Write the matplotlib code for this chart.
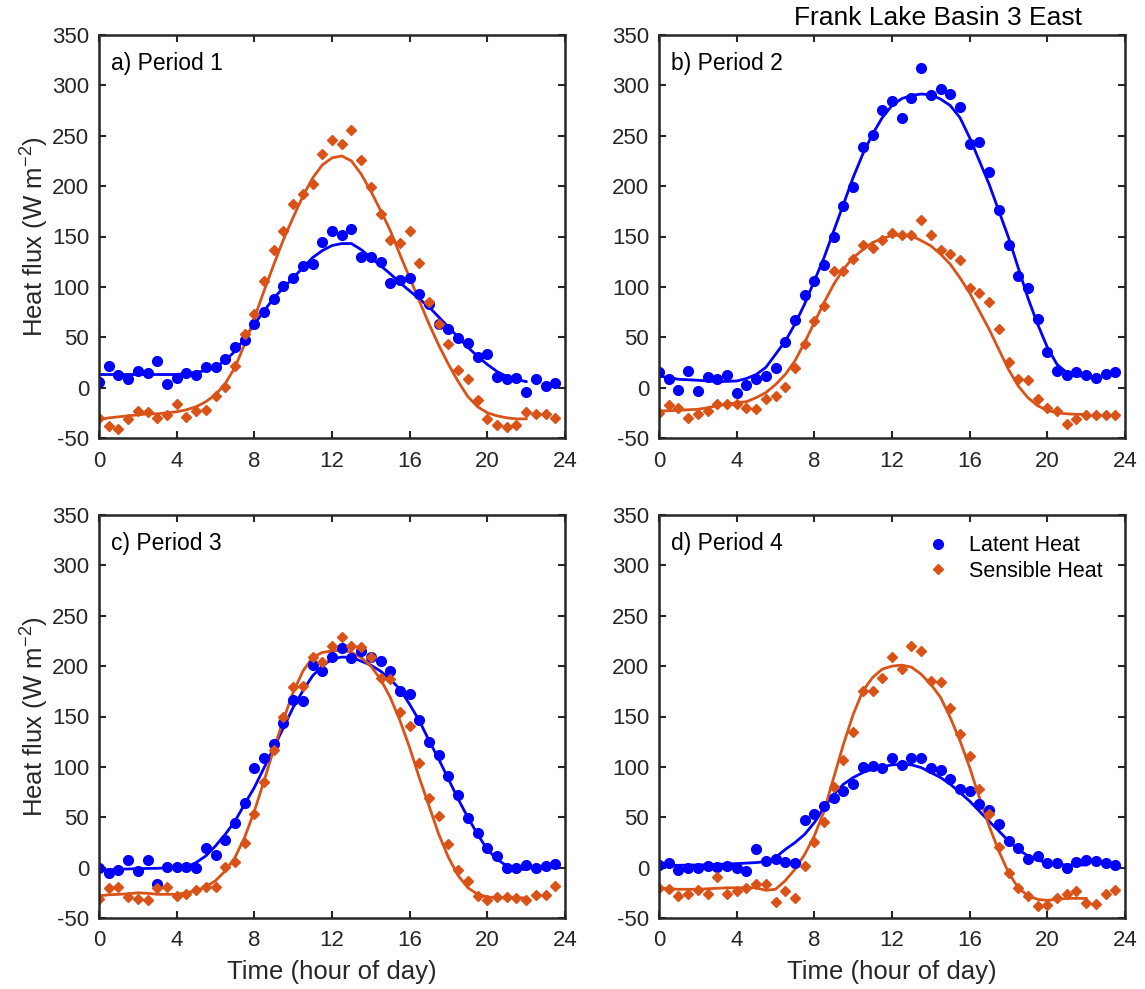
import numpy as np
import matplotlib as mpl
mpl.use('Agg')
import matplotlib.pyplot as plt

plt.rcParams['font.family'] = ['Liberation Sans', 'DejaVu Sans']
plt.rcParams['axes.unicode_minus'] = False
plt.rcParams['mathtext.fontset'] = 'custom'
plt.rcParams['mathtext.rm'] = 'Liberation Sans'
plt.rcParams['mathtext.it'] = 'Liberation Sans:italic'
plt.rcParams['mathtext.bf'] = 'Liberation Sans:bold'

# half-hourly time stamps and the time span of the smoothed fits
hours = np.arange(0, 24, 0.5)
fit_hours = np.arange(0, 22.5, 0.5)

# Period 1
p1_latent = [6, 21.5, 12.6, 9, 16.5, 15, 26, 4, 10, 15, 12.6, 20, 20, 28, 40, 47,
             63.5, 75.5, 88, 101, 109, 121, 122.5, 145, 155, 151.6, 157.6, 130, 130, 125, 104, 106.6,
             108.6, 92.7, 83.4, 63, 58, 49, 44.7, 30, 33, 10.6, 8.3, 9.3, -4, 8.3, 1.7, 5]
p1_sensible = [-30, -38, -41, -31, -23, -24, -30, -27, -16, -29, -23, -22.5, -8, 0.7, 21.5, 53,
               73.5, 106, 137, 155.6, 182, 192, 202, 232, 246, 242, 256, 226, 199, 172, 147, 144,
               155.6, 123.5, 85, 63, 43, 17, 8.3, -12.6, -31, -37, -39, -37, -24, -26, -26.5, -30]
p1_latent_fit = [13, 13, 13, 13, 13, 13, 13, 13, 13, 14, 15, 17, 20, 27, 36, 49,
                 63, 76, 89, 99, 109, 119, 129, 136, 141, 143, 143, 137, 129, 121, 113, 104,
                 96, 88, 80, 70, 60, 50, 40, 31, 23, 16, 11, 8, 6]
p1_sensible_fit = [-32, -30, -29, -28, -27, -26, -26, -25, -24, -22, -19, -14, -7, 4, 20, 43,
                   69, 96, 122, 147, 169, 190, 208, 221, 228, 230, 225, 212, 195, 176, 156, 132,
                   109, 86, 63, 42, 23, 6, -9, -19, -25, -28, -30, -31, -31]

# Period 2
p2_latent = [16, 8.3, -2.3, 16.5, -3.3, 10.6, 8.3, 13, -5, 2.6, 8.3, 11.6, 19, 45.7, 67, 92,
             106, 122, 150, 180, 198.7, 239, 251, 276, 284, 268, 287, 317, 290, 296, 291, 279,
             241.7, 244, 213.6, 176.5, 141.7, 111, 99, 68, 35.4, 16.5, 13, 16, 13, 10, 14, 16]
p2_sensible = [-25, -17, -20.5, -30, -26, -23, -16, -16, -16, -20.5, -21.5, -11.6, -8, 0.7, 19, 43,
               66, 81, 116, 116, 127.5, 142, 139, 147, 153, 151.6, 151.6, 166.6, 151.6, 137, 133, 126.5,
               98.7, 94.4, 85.4, 58, 25, 8.3, 7.3, -11.6, -20, -23, -36.4, -31.5, -27, -27, -27, -27]
p2_latent_fit = [11.6, 10, 8.3, 7.8, 7.3, 6.6, 6, 6.2, 6.6, 9, 13, 20, 33, 46, 63, 83,
                 106, 129, 155.6, 182, 208.6, 232, 251.7, 268, 280, 286.8, 290, 291.4, 290.7, 286.4, 280, 268,
                 248, 225, 202, 175.5, 149, 119, 89, 63, 40, 23, 15, 11.6, 11.6]
p2_sensible_fit = [-23, -23, -22.5, -22, -21.5, -20, -18, -16.5, -15, -14, -10, -5, 3, 13, 26.5, 44.7,
                   64.6, 84.4, 102.6, 117.5, 129, 137, 144, 148, 151, 151.6, 150.7, 146, 140.7, 132.5, 122.5, 109,
                   94, 76, 58, 38, 18, 1.7, -10, -18, -22.5, -25, -26, -26.5, -26.5]

# Period 3
p3_latent = [0, -5, -2.6, 7.3, -3.3, 7.3, -16.5, 0.7, 0.7, 0.7, -0.7, 19, 12.6, 27, 44.7, 64.6,
             98.7, 109, 122.5, 144, 166, 165.6, 201, 195, 208.6, 218, 208, 215, 208.6, 204.6, 195, 175.5,
             172.8, 147, 125, 112, 91, 72, 49.7, 34.8, 19, 11.6, -0.7, -0.7, 2.6, -0.7, 1.7, 3.3]
p3_sensible = [-31.5, -20.5, -19, -29, -31.5, -32.5, -20.5, -19, -28, -26, -22.5, -19, -19, 0.7, 6, 24.8,
               53.6, 85.4, 116.5, 149.7, 179.5, 180.5, 209, 203.6, 220, 229, 220, 219, 208.6, 188.7, 187, 154,
               140.7, 104, 68.9, 51, 23, -2.6, -13, -28, -32.5, -29, -29, -30, -32.5, -27, -27, -18]
p3_latent_fit = [-2.6, -2.2, -1.7, -1.3, -1, -0.8, -0.7, -0.3, 0, 0.7, 5, 11.6, 21.5, 33, 46, 63,
                 79.5, 99, 119, 139, 159, 175.5, 190.4, 200, 207, 209, 208.6, 205, 201, 195, 187, 177,
                 162, 145.7, 126, 107.6, 87.7, 68, 49.7, 33, 18, 8.3, 1.7, -1.7, -1.7]
p3_sensible_fit = [-28, -27, -26.5, -26, -25, -25.5, -26.5, -26.5, -26.5, -25, -23, -19, -13, -3.3, 10, 30,
                   56, 86, 117.5, 147, 174, 195, 208.6, 213.6, 215, 216, 213.6, 208.6, 200, 187, 169, 146,
                   119, 89, 61, 33, 10, -8, -20, -26.5, -29, -30, -30, -30, -30]

# Period 4
p4_latent = [2.6, 5, -2.6, -0.7, -0.7, 1.7, 0.7, 1.7, -0.7, -3.3, 18, 6.6, 8.3, 6, 5, 47,
             53.6, 61, 69.5, 76, 83.4, 100, 101, 98.7, 109, 102, 108.6, 109, 98.7, 96.7, 87.7, 77.8,
             76, 63.6, 57, 43, 26.5, 19, 8.3, 11.6, 5, 5, -0.7, 6, 7.3, 6.6, 5, 2.6]
p4_sensible = [-20.5, -21.5, -28, -26.5, -22.5, -26, -9.3, -26, -23, -20.5, -16, -16, -34, -23, -30, 1.7,
               25, 45.7, 80, 106.6, 135, 175, 175.5, 188.7, 208.6, 197, 220, 215, 185.4, 183.8, 158, 133,
               111, 78, 53.6, 20.5, -5, -20, -28, -38, -37, -30, -26.5, -23, -34.8, -35.8, -26.5, -22.5]
p4_latent_fit = [1.7, 2, 2.3, 2.5, 2.6, 3, 3.3, 3.6, 4, 4.5, 5, 6, 10, 18, 24.8, 33,
                 44.7, 59.6, 72.8, 82.8, 89.4, 94.4, 97.7, 100, 102, 102.6, 102, 99.3, 94.4, 89.4, 82.8, 74.5,
                 66, 56, 46, 36.4, 26.5, 18, 11.6, 7.3, 5, 3.3, 2.6, 2.6, 2.6]
p4_sensible_fit = [-20, -21, -21.5, -21.5, -21.5, -21, -20.5, -20, -20, -20, -20, -22.5, -21.5, -13, -1.7, 13,
                   31.5, 56, 89.4, 122.5, 152, 175.5, 188.7, 197, 200, 201, 199, 192, 182, 169, 149, 126,
                   99.4, 69.5, 41.4, 16.5, -5, -20, -28, -31.5, -32.5, -31.5, -30.5, -30.5, -30.5]

panels = [
    ('a) Period 1', p1_latent, p1_sensible, p1_latent_fit, p1_sensible_fit),
    ('b) Period 2', p2_latent, p2_sensible, p2_latent_fit, p2_sensible_fit),
    ('c) Period 3', p3_latent, p3_sensible, p3_latent_fit, p3_sensible_fit),
    ('d) Period 4', p4_latent, p4_sensible, p4_latent_fit, p4_sensible_fit),
]

blue = '#0000FF'
orange = '#D95319'
dark = '#262626'

fig = plt.figure(figsize=(11.45, 9.89), dpi=100)
W, H = 1145.0, 989.0
# axes boxes in pixels: left, top, right, bottom
boxes = [(99, 35, 565, 438), (659, 35, 1125, 438),
         (99, 515, 565, 918), (659, 515, 1125, 918)]

for i, (title, lat, sen, lat_fit, sen_fit) in enumerate(panels):
    l, t, r, b = boxes[i]
    ax = fig.add_axes([l / W, 1 - b / H, (r - l) / W, (b - t) / H])

    ax.plot(fit_hours, lat_fit, '-', color=blue, lw=2)
    ax.plot(fit_hours, sen_fit, '-', color=orange, lw=2)
    ax.plot(hours, lat, 'o', color=blue, ms=7, mec=blue, label='Latent Heat')
    ax.plot(hours, sen, 'D', color=orange, ms=5.5, mec=orange, label='Sensible Heat')

    ax.set_xlim(0, 24)
    ax.set_ylim(-50, 350)
    ax.set_xticks(np.arange(0, 25, 4))
    ax.set_yticks(np.arange(-50, 351, 50))
    ax.tick_params(direction='in', length=5, width=1.5, top=True, right=True,
                   labelsize=16, colors=dark)
    ax.tick_params(axis='x', pad=9)
    ax.tick_params(axis='y', pad=7)
    for s in ax.spines.values():
        s.set_linewidth(1.8)
        s.set_color(dark)

    ax.text(0.025, 0.93, title, transform=ax.transAxes, fontsize=16.5,
            va='center', ha='left', color='black')

    if i % 2 == 0:
        ax.set_ylabel('Heat flux (W m$^{-2}$)', fontsize=18.5, color=dark)
        ax.yaxis.set_label_coords(-0.102, 0.5)
    if i >= 2:
        ax.set_xlabel('Time (hour of day)', fontsize=18.5, color=dark)
        ax.xaxis.set_label_coords(0.5, -0.103)
    if i == 3:
        ax.legend(loc='upper left', bbox_to_anchor=(0.557, 0.971), frameon=False,
                  fontsize=15.5, handlelength=1.0, handletextpad=0.95,
                  labelspacing=0.2, borderaxespad=0.0, borderpad=0.4)

fig.text(938 / W, 1 - 18 / H, 'Frank Lake Basin 3 East', fontsize=19,
         ha='center', va='center', color='black')

fig.savefig('out.png', dpi=100)
plt.close()
